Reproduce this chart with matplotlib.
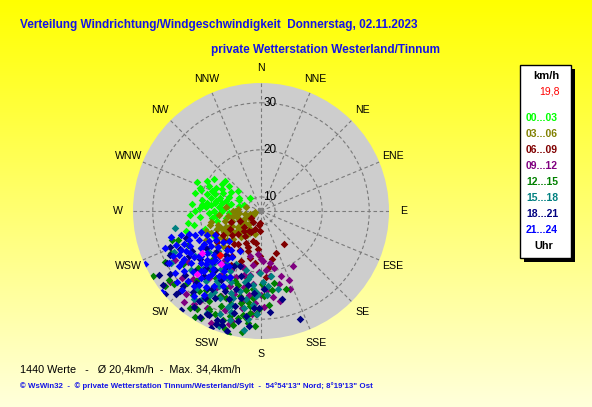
import numpy as np
import matplotlib
matplotlib.use('Agg')
import matplotlib.pyplot as plt
from matplotlib.patches import Rectangle
from matplotlib import transforms

plt.rcParams['font.family'] = ['Liberation Sans', 'DejaVu Sans']

W, H = 592, 407

title = "Verteilung Windrichtung/Windgeschwindigkeit  Donnerstag, 02.11.2023"
subtitle = "private Wetterstation Westerland/Tinnum"
stats_line = "1440 Werte   -   Ø 20,4km/h  -  Max. 34,4km/h"
footer = "© WsWin32  -  © private Wetterstation Tinnum/Westerland/Sylt  -  54°54'13\" Nord; 8°19'13\" Ost"

directions = ['N', 'NNE', 'NE', 'ENE', 'E', 'ESE', 'SE', 'SSE',
              'S', 'SSW', 'SW', 'WSW', 'W', 'WNW', 'NW', 'NNW']
radial_ticks = [10, 20, 30]
r_min, r_max = 7.0, 34.2

legend_unit = "km/h"
legend_footer = "Uhr"
current_value = "19,8"
current_point = (223, 19.8)

group_labels = ['00...03', '03...06', '06...09', '09...12',
                '12...15', '15...18', '18...21', '21...24']
group_colors = ['#00FF00', '#808000', '#800000', '#800080',
                '#008000', '#008080', '#000080', '#0000FF']

# (direction in degrees, speed in km/h) per 3-hour period
g00_03 = [(280,17),(285,18),(275,16),(290,17.5),(270,17),(282,15.5),(288,19),(278,18.5),(295,16),(272,15),
          (265,16.5),(283,16.8),(292,18.2),(276,19.5),(268,18),(286,14.8),(279,14.2),(297,17.8),(273,20),(262,17.5),
          (289,20.5),(300,16.5),(281,19.8),(269,15.5),(284,13.5),(293,14.5),(277,17.6),(287,16.2),(274,18.8),(296,19.2),
          (305,17),(310,17),(301,12.4),(320,10.5),(290,10.8),(291,20.8),(276,21.7),(267,22.1),(255,23.4),(261,22.7),
          (245,18.5),(242,18.3),(258,21.6),(258,14.6),(297,12.2),(303,14.5),(308,15.5),(299,20.2),(264,20),(252,19.5),
          (248,17),(271,12.5),(283,11.8),(312,13.5),(294,22),(266,13.8),(257,16.5),(285,21.5),(270,21),(304,19)]
g03_06 = [(255,9.5),(250,10),(260,10.5),(245,11),(265,11.7),(240,12),(258,13.3),(250,13.5),(235,13),(228,12.5),
          (245,15.2),(255,15),(240,16),(233,14.5),(262,14),(248,17),(238,18.1),(246,18.7),(252,16.5),(230,16.5),
          (222,10.7),(215,11.5),(195,12.1),(210,12.8),(277,14.5),(286,10.4),(270,13),(275,12),(243,13.8),(236,17),
          (232,19),(228,18),(250,19.5),(242,20.2),(257,17.8),(265,16),(218,14),(225,15.5),(248,8.5),(262,8.2),
          (239,10),(253,12.2),(234,11.2),(244,14.6),(260,12.4),(230,13.8),(247,16.3),(237,15.5),(224,13),(255,18.3)]
g06_09 = [(190,10),(200,11),(185,9.5),(210,11.9),(220,12.5),(236,9.5),(183,11.2),(213,13.3),(225,14),(205,14.5),
          (195,13.5),(189,13.9),(215,15.5),(230,15),(249,13.8),(240,14.5),(198,16),(208,16.5),(181,16.6),(213,18.4),
          (222,17.5),(231,17),(218,19),(202,18.5),(193,17.2),(185,15),(228,12),(238,16.5),(245,12),(235,18.5),
          (209,20),(198,19.5),(145.5,15.5),(167,17.4),(172,19),(176,21),(160,16.5),(192,21.5),(226,20.5),(205,12),
          (215,9.8),(187,18.2),(219,16),(243,17.8),(200,15.2)]
g09_12 = [(157.6,22.8),(166,23),(167,19.4),(159.4,24.7),(178,17.7),(180,17.2),(170,18.2),(184.4,16.2),(194,16.9),(175,19.5),
          (172,21),(163,21.5),(150,20.5),(176,23.8),(182,20),(188,18.5),(186,22.5),(190,20.8),(198,19.5),(183.8,26.5),
          (191,28),(195,31.2),(209,30.5),(214,30),(220,32.3),(215.6,31.3),(202.7,24.3),(205,27),(198,25.5),(210,26),
          (200,29.5),(193,23.5),(212,23),(218,25),(225,27.5),(230,29),(232,31.5),(226,22.5),(207,21),(196,32),
          (185,29),(188,25),(180,24.8),(178,27.5),(204,33),(235,26),(240,28),(222,30.8),(212,28.5),(201,22),
          (195,21),(192,26.5),(216,20),(172,25.5),(168,26.5)]
g12_15 = [(239,33.7),(233.2,31.4),(244.7,28.1),(251.8,26.9),(250.7,25.8),(209.5,33.1),(192,30.2),(186.7,31),(181,27.8),(179.5,22.6),
          (186,23.7),(162,24.4),(197,33.3),(186.7,27.3),(187.6,30.2),(208,30.6),(217.7,28.4),(206,27.1),(194,25.6),(207.3,30.9),
          (196.6,30.3),(186.2,28.8),(211.9,25.7),(200.6,22.9),(203,29),(199,31.5),(213,31.8),(219,30),(223,27),(215,27.5),
          (210,29.2),(205,25),(198,27.8),(192,27),(190,29.5),(201,32.8),(195,34),(189,33),(183,31.5),(185,25.5),
          (178,25),(175,27),(172,24),(170,22.5),(191,24),(197,23.5),(208,23),(228,25),(226,29),(230,31),
          (236,27),(242,30),(245,24),(238,22),(220,23.5),(225,21.5),(216,32.5),(204,31),(212,33.5),(183,29),
          (194,32),(188,26.5),(202,27),(214,24.2),(232,33)]
g15_18 = [(258.7,25.6),(174.6,23),(182,24.7),(187,30.2),(183.4,25.1),(189.8,25.9),(196.7,29.4),(181,20.1),(191,21.7),(223.4,23),
          (207.7,21.4),(189.8,21),(209,25.2),(195,24.6),(211.3,28),(199.2,28.5),(184.3,24),(215,22),(203,23.5),(198,26.5),
          (205,27.5),(212,24.5),(218,26),(220,28.5),(193,22.5),(186,22.8),(178,22),(176,25),(185,27),(190,28),
          (196,31),(202,30.5),(208,31.5),(200,25.5),(194,20),(213,20.5),(225,24.5),(230,26.5),(236,24),(240,29),
          (245,27.5),(232,21),(227,19.5),(205,19.5),(217,30.5),(188,32.5),(200,33),(182,29),(171,21),(168,24),
          (207,23),(197,27.8),(210,26.8),(222,22.2),(214,29.2)]
g18_21 = [(241.3,29.8),(248.2,27.8),(225.7,32.2),(218.9,34),(207.7,31.7),(202,32),(199.7,31.8),(201.5,32.9),(184,27.6),(166.4,26.2),
          (160,31.4),(199,32.6),(181,27.7),(206.3,31.7),(225.4,31.1),(238.2,25),(221.2,25.3),(204.5,25.7),(195.5,27.9),(223.2,21.5),
          (201,19.5),(214.4,30.2),(230,28),(235,30.5),(228,26),(215,27),(210,24),(218,23),(232,23.5),(240,24),
          (245,26),(250,24),(236,21),(228,20),(212,21),(205,22.5),(198,24.5),(193,26),(188,29.5),(192,31),
          (196,33.5),(210,33),(215,32),(220,29.5),(226,30),(233,33),(190,23),(185,24.5),(178,23.5),(175,28.5),
          (208,28),(200,27),(213,29),(222,27.5),(244,28.5),(238,32.5),(229,34),(186,31.5),(195,29.5),(203,34),
          (212,26.5),(218,19),(224,23.8),(206,20),(197,21.5)]
g21_24 = [(247.8,23.5),(240.4,19.7),(226.9,16.2),(241.5,26.8),(234.2,23.2),(223,20),(232.2,27.7),(223.5,24.5),(211.4,21.9),(221.7,28.3),
          (211.9,25.7),(208.3,16.6),(245.2,34.1),(230.8,34.1),(240.7,29.4),(253,24.8),(250,22),(245,21.5),(238,22),(235,20),
          (230,19),(228,22.5),(225,25),(220,23),(218,21),(215,19.5),(213,23.5),(216,27),(220,27.5),(226,28.5),
          (230,30.4),(236,28),(242,25),(248,26.5),(244,23.8),(239,24.5),(233,25.5),(229,24),(224,22),(221,18),
          (217,17.5),(212,18.5),(210,20.5),(205,22.5),(207,25),(214,28.5),(218,30),(225,30.8),(228,26.5),(232,21.5),
          (237,18.5),(242,18),(246,19.5),(251,20.5),(254,27),(249,28.8),(243,28),(238,26.3),(234,29.5),(219,25),
          (222,26.2),(227,20.8),(231,17.5),(236,24.3),(240,21),(244,26),(247,24.8),(226,23.2),(223,21.2),(218,24),
          (213,21),(209,23),(233,23),(237,27),(252,23)]
highlight_pts = [(234.7,22.3),(216.9,21.0),(225.5,26.0)]

groups = [g00_03, g03_06, g06_09, g09_12, g12_15, g15_18, g18_21, g21_24]


def fx(px):
    return px / W


def fy(py):
    return 1 - py / H


fig = plt.figure(figsize=(W / 100, H / 100), dpi=100)

# background gradient
bg = fig.add_axes([0, 0, 1, 1], zorder=0)
t = np.linspace(0, 1, H)[:, None]
img = np.ones((H, 2, 3))
img[:, :, 2] = 0.86 * t
bg.imshow(img, aspect='auto', extent=[0, 1, 0, 1], interpolation='bilinear')
bg.set_xlim(0, 1)
bg.set_ylim(0, 1)
bg.axis('off')

# polar chart
cx, cy, R = 261, 211, 128
ax = fig.add_axes([fx(cx - R), fy(cy + R), 2 * R / W, 2 * R / H],
                  projection='polar', zorder=1)
ax.set_theta_zero_location('N')
ax.set_theta_direction(-1)
ax.set_ylim(r_min, r_max)
ax.set_facecolor('#CDCDCD')
ax.spines['polar'].set_visible(False)
ax.set_xticks(np.radians(np.arange(0, 360, 22.5)))
ax.set_xticklabels([])
ax.set_yticks(radial_ticks)
ax.set_yticklabels([])
ax.tick_params(length=0)
ax.grid(True, color='#7a7a7a', linestyle=(0, (3.2, 2.4)), linewidth=0.8)

k = 143 / R * 0.5
for i, lab in enumerate(directions):
    th = np.radians(i * 22.5)
    ax.text(0.5 + k * np.sin(th), 0.5 + k * np.cos(th), lab, transform=ax.transAxes,
            ha='center', va='center', fontsize=7.6, clip_on=False, color='black')

off = transforms.offset_copy(ax.transData, fig=fig, x=1.5, y=0, units='points')
for r in radial_ticks:
    ax.text(0, r, str(r), transform=off, ha='left', va='center', fontsize=8.5, color='black', zorder=2)

ax.scatter([0], [r_min], marker='s', s=22, c='#808080', linewidths=0, zorder=2)

for pts, col in zip(groups, group_colors):
    arr = np.array(pts, dtype=float)
    ax.scatter(np.radians(arr[:, 0]), arr[:, 1], marker='D', s=15, c=col,
               linewidths=0, zorder=3)

harr = np.array(highlight_pts)
ax.scatter(np.radians(harr[:, 0]), harr[:, 1], marker='D', s=15, c='#FF00FF', linewidths=0, zorder=4)
ax.scatter([np.radians(current_point[0])], [current_point[1]], marker='D', s=17, c='#FF0000',
           linewidths=0, zorder=5)

# titles
blue = '#1414E6'
fig.text(fx(20), fy(25), title, ha='left', va='center', fontsize=8.5, fontweight='bold', color=blue)
fig.text(fx(211), fy(50), subtitle, ha='left', va='center', fontsize=8.5, fontweight='bold', color=blue)
fig.text(fx(20), fy(369), stats_line, ha='left', va='center', fontsize=7.8, color='black')
fig.text(fx(20), fy(386), footer, ha='left', va='center', fontsize=5.7, fontweight='bold', color=blue)

# legend box
bx0, by0, bx1, by1 = 519.5, 65, 570.5, 258
fig.patches.append(Rectangle((fx(bx0 + 4), fy(by1 + 4)), (bx1 - bx0) / W, (by1 - by0) / H,
                             transform=fig.transFigure, facecolor='black', edgecolor='none', zorder=5))
fig.patches.append(Rectangle((fx(bx0), fy(by1)), (bx1 - bx0) / W, (by1 - by0) / H,
                             transform=fig.transFigure, facecolor='white', edgecolor='black',
                             linewidth=1.0, zorder=5.5))
fig.text(fx(546.5), fy(75.7), legend_unit, ha='center', va='center', fontsize=8, fontweight='bold',
         color='black', zorder=6)
fig.text(fx(560), fy(91), current_value, ha='right', va='center', fontsize=7.5, color='#FF0000', zorder=6)
for i, (lab, col) in enumerate(zip(group_labels, group_colors)):
    fig.text(fx(526), fy(117.7 + i * 16.05), lab, ha='left', va='center', fontsize=7.5,
             fontweight='bold', color=col, zorder=6)
fig.text(fx(543.5), fy(246), legend_footer, ha='center', va='center', fontsize=7.8, fontweight='bold',
         color='black', zorder=6)

fig.savefig('out.png', dpi=100)
